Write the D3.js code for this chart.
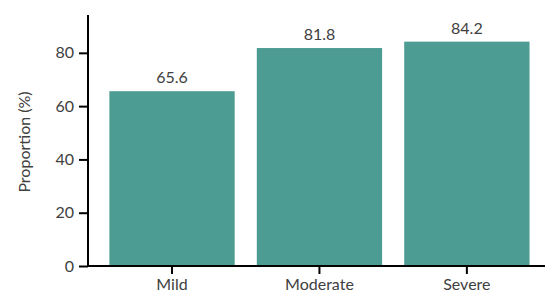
<!DOCTYPE html>
<html>
<head>
<meta charset="utf-8">
<script src="https://cdn.jsdelivr.net/npm/d3@7"></script>
<style>
body { margin: 0; background: #fff; }
text { font-family: Lato, "Noto Sans", sans-serif; fill: #404040; }
</style>
</head>
<body>
<div id="chart"></div>
<script>
var categories = ['Mild', 'Moderate', 'Severe'];
var values = [65.6, 81.8, 84.2];
var yTicks = [0, 20, 40, 60, 80];

var width = 546, height = 298;

var svg = d3.select('#chart')
    .append('svg')
    .attr('width', width)
    .attr('height', height);

var x_scale = d3.scaleBand()
    .domain(categories)
    .range([88, 545])
    .paddingInner(0.15)
    .paddingOuter(0.125)
    .align(0.58);

var y_scale = d3.scaleLinear()
    .domain([0, 94.2])
    .range([266, 15]);

svg.selectAll('.bar')
    .data(values)
    .enter()
    .append('rect')
    .attr('class', 'bar')
    .attr('x', function (d, i) { return x_scale(categories[i]); })
    .attr('width', x_scale.bandwidth())
    .attr('y', function (d) { return y_scale(d); })
    .attr('height', function (d) { return y_scale(0) - y_scale(d); })
    .attr('fill', '#4c9c93');

svg.selectAll('.val')
    .data(values)
    .enter()
    .append('text')
    .attr('class', 'val')
    .attr('x', function (d, i) { return x_scale(categories[i]) + x_scale.bandwidth() / 2; })
    .attr('y', function (d) { return y_scale(d) - 8; })
    .attr('text-anchor', 'middle')
    .style('font-size', '16px')
    .text(function (d) { return d.toFixed(1); });

var y_axis = d3.axisLeft(y_scale).tickValues(yTicks).tickSize(9).tickPadding(5);
var x_axis = d3.axisBottom(x_scale).tickSize(8).tickPadding(5);

var gy = svg.append('g')
    .attr('transform', 'translate(88,0)')
    .call(y_axis);
var gx = svg.append('g')
    .attr('transform', 'translate(0,266)')
    .call(x_axis);

[gx, gy].forEach(function (g) {
    g.select('.domain').remove();
    g.selectAll('line').attr('stroke', '#000').attr('stroke-width', 2);
    g.selectAll('text').style('font-size', '16px').style('font-family', 'Lato, "Noto Sans", sans-serif').attr('fill', '#404040');
});

// axis lines
svg.append('line')
    .attr('x1', 88).attr('x2', 88)
    .attr('y1', y_scale.range()[1]).attr('y2', 267)
    .attr('stroke', '#000').attr('stroke-width', 2);
svg.append('line')
    .attr('x1', 87).attr('x2', 545)
    .attr('y1', 266).attr('y2', 266)
    .attr('stroke', '#000').attr('stroke-width', 2);

svg.append('text')
    .attr('transform', 'translate(30,142) rotate(-90)')
    .attr('text-anchor', 'middle')
    .style('font-size', '16px')
    .text('Proportion (%)');
</script>
</body>
</html>
